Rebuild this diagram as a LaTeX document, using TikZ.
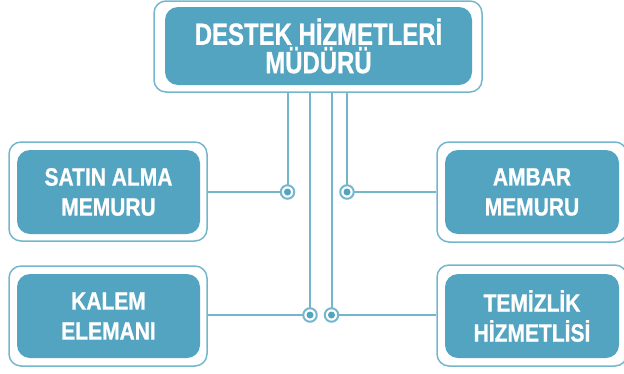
\documentclass[tikz,border=0pt]{standalone}
\usepackage{fontspec}
\newfontfamily\headfont[FakeStretch=0.78,FakeBold=0.8]{Liberation Sans}
\newfontfamily\unitfont[FakeStretch=0.84,FakeBold=0.8]{Liberation Sans}
\usetikzlibrary{positioning,backgrounds}
\definecolor{unitblue}{HTML}{53A4C1}
\definecolor{linkblue}{HTML}{74B7CD}
\tikzset{
  outerbox/.style={rectangle, rounded corners=12pt, draw=linkblue, line width=1.5pt, fill=white, minimum width=198pt, minimum height=99pt, inner sep=0pt},
  unit/.style={rectangle, rounded corners=13pt, fill=unitblue, text=white, align=center, font=\unitfont\bfseries\fontsize{25}{30}\selectfont, minimum width=183pt, minimum height=84pt, inner sep=0pt},
  head/.style={unit, font=\headfont\bfseries\fontsize{30.7}{28.4}\selectfont, minimum width=307pt, minimum height=78pt},
  link/.style={draw=linkblue, line width=2pt},
  joint/.style={circle, draw=linkblue, line width=2pt, fill=white, minimum size=13.5pt, inner sep=0pt,
    path picture={\fill[unitblue] (path picture bounding box.center) circle (3.5pt);}}
}

\begin{document}
\begin{tikzpicture}[x=1pt, y=-1pt]
  \useasboundingbox (0,0) rectangle (624,373);

  % Nodes
  \node[outerbox, minimum width=328pt, minimum height=91pt] (mudurO) at (318,46.5) {};
  \node[head] (mudur) at (318.5,46) {DESTEK HİZMETLERİ\\MÜDÜRÜ};

  \node[outerbox] (satinO) at (108,191.5) {};
  \node[unit] (satin) at (108.5,192) {SATIN ALMA\\MEMURU};
  \node[outerbox, minimum height=100pt] (kalemO) at (108,316) {};
  \node[unit] (kalem) at (108.5,316) {KALEM\\ELEMANI};

  \node[outerbox, minimum width=190pt, minimum height=100pt] (ambarO) at (532,192) {};
  \node[unit, minimum width=174pt] (ambar) at (532,192) {AMBAR\\MEMURU};
  \node[outerbox, minimum width=190pt, minimum height=101pt] (temizO) at (532,315.5) {};
  \node[unit, minimum width=174pt] (temiz) at (532,316) {TEMİZLİK\\HİZMETLİSİ};

  % Joints
  \node[joint] (jSatin) at (287.5,192) {};
  \node[joint] (jAmbar) at (347,192) {};
  \node[joint] (jKalem) at (310,315) {};
  \node[joint] (jTemiz) at (331.5,315) {};

  % Edges
  \begin{scope}[on background layer]
    \draw[link] (jSatin.center) -- (jSatin |- mudurO.south);
    \draw[link] (jAmbar.center) -- (jAmbar |- mudurO.south);
    \draw[link] (jKalem.center) -- (jKalem |- mudurO.south);
    \draw[link] (jTemiz.center) -- (jTemiz |- mudurO.south);
    \draw[link] (satinO.east |- jSatin) -- (jSatin.center);
    \draw[link] (ambarO.west |- jAmbar) -- (jAmbar.center);
    \draw[link] (kalemO.east |- jKalem) -- (jKalem.center);
    \draw[link] (temizO.west |- jTemiz) -- (jTemiz.center);
  \end{scope}
\end{tikzpicture}
\end{document}
